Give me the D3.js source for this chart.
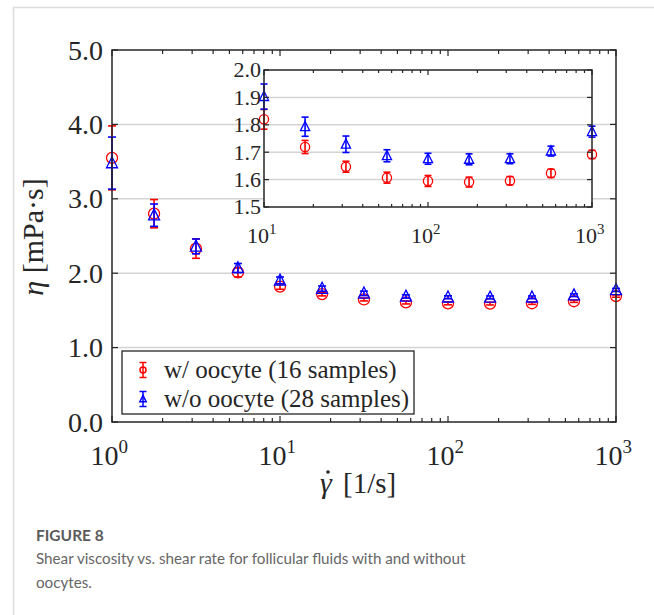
<!DOCTYPE html>
<html><head><meta charset="utf-8">
<script src="https://cdn.jsdelivr.net/npm/d3@7"></script>
<style>body{margin:0;background:#fff}</style>
</head><body><svg id="c" width="654" height="615"></svg>
<script>
// ---- data ----
const shearRate = [1, 1.78, 3.16, 5.62, 10, 17.8, 31.6, 56.2, 100, 178, 316, 562, 1000];
const withOocyte = [3.55, 2.80, 2.33, 2.01, 1.82, 1.719, 1.647, 1.607, 1.595, 1.591, 1.596, 1.623, 1.692];
const withOocyteErr = [0.43, 0.19, 0.13, 0.06, 0.036, 0.024, 0.02, 0.02, 0.02, 0.018, 0.015, 0.015, 0.015];
const withoutOocyte = [3.48, 2.78, 2.36, 2.07, 1.903, 1.793, 1.729, 1.687, 1.676, 1.674, 1.676, 1.704, 1.775];
const withoutOocyteErr = [0.35, 0.15, 0.10, 0.06, 0.046, 0.035, 0.03, 0.022, 0.02, 0.02, 0.018, 0.018, 0.02];
const mainYTicks = [0, 1, 2, 3, 4, 5];
const insetYTicks = [1.5, 1.6, 1.7, 1.8, 1.9, 2.0];
const mainXTicks = [1, 10, 100, 1000];
const insetXTicks = [10, 100, 1000];
const seriesNames = ["w/ oocyte (16 samples)", "w/o oocyte (28 samples)"];
const seriesColors = ["#ff0000", "#0000ff"];

const svg = d3.select("#c");
const AX = "#262626", GRID = "#d4d4d4", SERIF = "'Liberation Serif','Times New Roman',serif";

// page frame
svg.append("line").attr("x1", 13).attr("x2", 654).attr("y1", 7.5).attr("y2", 7.5).attr("stroke", "#dcdcdc").attr("stroke-width", 1.5);
svg.append("line").attr("x1", 13.5).attr("x2", 13.5).attr("y1", 7).attr("y2", 615).attr("stroke", "#dcdcdc").attr("stroke-width", 1.5);

function minorTicks(domain) {
  const out = [];
  for (let d = domain[0]; d < domain[1]; d *= 10)
    for (let k = 2; k <= 9; k++) out.push(d * k);
  return out;
}

function trianglePath(s) {
  return `M0,${-s * 1.15}L${s},${s * 0.85}L${-s},${s * 0.85}Z`;
}

function drawPanel(x, y, xTicks, yTicks, o) {
  const g = svg.append("g");
  const [x0, x1] = x.range(), [y0, y1] = y.range();
  g.append("rect").attr("x", x0).attr("y", y1).attr("width", x1 - x0).attr("height", y0 - y1).attr("fill", "#fff");
  g.selectAll(".grid").data(yTicks.slice(1, -1)).join("line")
    .attr("x1", x0).attr("x2", x1).attr("y1", d => y(d)).attr("y2", d => y(d))
    .attr("stroke", GRID).attr("stroke-width", 1.5);
  const series = [
    { v: withOocyte, e: withOocyteErr, c: seriesColors[0], m: "circle" },
    { v: withoutOocyte, e: withoutOocyteErr, c: seriesColors[1], m: "tri" }
  ];
  series.forEach(s => {
    const pts = shearRate.map((r, i) => ({ r, v: s.v[i], e: s.e[i] })).filter(p => p.r >= x.domain()[0]);
    const sg = g.append("g").attr("stroke", s.c).attr("fill", "none");
    pts.forEach(p => {
      const cx = x(p.r);
      sg.append("line").attr("x1", cx).attr("x2", cx).attr("y1", y(p.v - p.e)).attr("y2", y(p.v + p.e)).attr("stroke-width", 1.6);
      [p.v - p.e, p.v + p.e].forEach(t => sg.append("line").attr("x1", cx - o.cap).attr("x2", cx + o.cap).attr("y1", y(t)).attr("y2", y(t)).attr("stroke-width", 1.6));
      if (s.m === "circle") sg.append("circle").attr("cx", cx).attr("cy", y(p.v)).attr("r", o.r).attr("stroke-width", 1.3);
      else sg.append("path").attr("d", trianglePath(o.r)).attr("transform", `translate(${cx},${y(p.v)})`).attr("stroke-width", 1.3);
    });
  });
  g.append("rect").attr("x", x0).attr("y", y1).attr("width", x1 - x0).attr("height", y0 - y1)
    .attr("fill", "none").attr("stroke", AX).attr("stroke-width", 1.5);
  const tk = g.append("g").attr("stroke", AX).attr("stroke-width", 1.2);
  xTicks.forEach(t => {
    tk.append("line").attr("x1", x(t)).attr("x2", x(t)).attr("y1", y0).attr("y2", y0 - o.major);
    tk.append("line").attr("x1", x(t)).attr("x2", x(t)).attr("y1", y1).attr("y2", y1 + o.major);
  });
  minorTicks(x.domain()).forEach(t => {
    tk.append("line").attr("x1", x(t)).attr("x2", x(t)).attr("y1", y0).attr("y2", y0 - o.minor);
    tk.append("line").attr("x1", x(t)).attr("x2", x(t)).attr("y1", y1).attr("y2", y1 + o.minor);
  });
  yTicks.forEach(t => {
    tk.append("line").attr("x1", x0).attr("x2", x0 + o.major).attr("y1", y(t)).attr("y2", y(t));
    tk.append("line").attr("x1", x1).attr("x2", x1 - o.major).attr("y1", y(t)).attr("y2", y(t));
  });
  yTicks.forEach(t => {
    g.append("text").attr("x", x0 - o.ypad).attr("y", y(t) + o.fs * 0.34).attr("text-anchor", "end")
      .attr("font-family", SERIF).attr("font-size", o.fs).attr("fill", AX).text(d3.format(".1f")(t));
  });
  xTicks.forEach(t => {
    const txt = g.append("text").attr("x", x(t) - o.fs * 0.1).attr("y", y0 + o.xpad).attr("text-anchor", "middle")
      .attr("font-family", SERIF).attr("font-size", o.fs).attr("fill", AX);
    txt.append("tspan").text("10");
    txt.append("tspan").attr("dy", -o.fs * 0.42).attr("font-size", o.fs * 0.68).text(String(Math.round(Math.log10(t))));
  });
  return g;
}

const xMain = d3.scaleLog().domain([1, 1000]).range([112, 616]);
const yMain = d3.scaleLinear().domain([0, 5]).range([422, 50]);
drawPanel(xMain, yMain, mainXTicks, mainYTicks, { r: 5.5, cap: 4, major: 6, minor: 4, fs: 28, ypad: 9, xpad: 43 });

const xIn = d3.scaleLog().domain([10, 1000]).range([264, 592]);
const yIn = d3.scaleLinear().domain([1.5, 2.0]).range([207, 70]);
drawPanel(xIn, yIn, insetXTicks, insetYTicks, { r: 4.6, cap: 3.5, major: 5, minor: 3, fs: 22, ypad: 3, xpad: 36 });

// axis labels
svg.append("text").attr("x", 320).attr("y", 493).attr("font-family", SERIF).attr("font-style", "italic")
  .attr("font-size", 30).attr("fill", AX).text("\u03B3");
svg.append("circle").attr("cx", 328).attr("cy", 472).attr("r", 1.8).attr("fill", AX);
svg.append("text").attr("x", 343).attr("y", 493).attr("font-family", SERIF)
  .attr("font-size", 29).attr("fill", AX).text("[1/s]");
const yl = svg.append("text").attr("transform", "translate(43,237) rotate(-90)").attr("text-anchor", "middle")
  .attr("font-family", SERIF).attr("font-size", 30).attr("fill", AX);
yl.append("tspan").attr("font-style", "italic").text("\u03B7");
yl.append("tspan").text(" [mPa\u00B7s]");

// legend
const lg = svg.append("g");
lg.append("rect").attr("x", 122).attr("y", 351).attr("width", 292).attr("height", 63).attr("fill", "#fff").attr("stroke", AX).attr("stroke-width", 1.3);
seriesNames.forEach((name, i) => {
  const cy = 370 + i * 29, cx = 143, c = seriesColors[i];
  const m = lg.append("g").attr("stroke", c).attr("fill", "none").attr("stroke-width", 1.5);
  m.append("line").attr("x1", cx).attr("x2", cx).attr("y1", cy - 7.5).attr("y2", cy + 7.5);
  [-7.5, 7.5].forEach(d => m.append("line").attr("x1", cx - 3.5).attr("x2", cx + 3.5).attr("y1", cy + d).attr("y2", cy + d));
  if (i === 0) m.append("circle").attr("cx", cx).attr("cy", cy).attr("r", 3);
  else m.append("path").attr("d", trianglePath(3.2)).attr("transform", `translate(${cx},${cy})`);
  lg.append("text").attr("x", 164).attr("y", cy + 8).attr("font-family", SERIF).attr("font-size", 25).attr("fill", AX).text(name);
});

// caption
svg.append("text").attr("x", 36).attr("y", 541).attr("font-family", "Lato, 'Open Sans', sans-serif").attr("font-weight", 700)
  .attr("font-size", 15.5).attr("fill", "#5a5a5a").text("FIGURE 8");
const capLines = ["Shear viscosity vs. shear rate for follicular fluids with and without", "oocytes."];
capLines.forEach((t, i) => svg.append("text").attr("x", 36).attr("y", 564 + i * 24)
  .attr("font-family", "Lato, 'Open Sans', sans-serif").attr("font-size", 15.2).attr("fill", "#666").text(t));
</script></body></html>
